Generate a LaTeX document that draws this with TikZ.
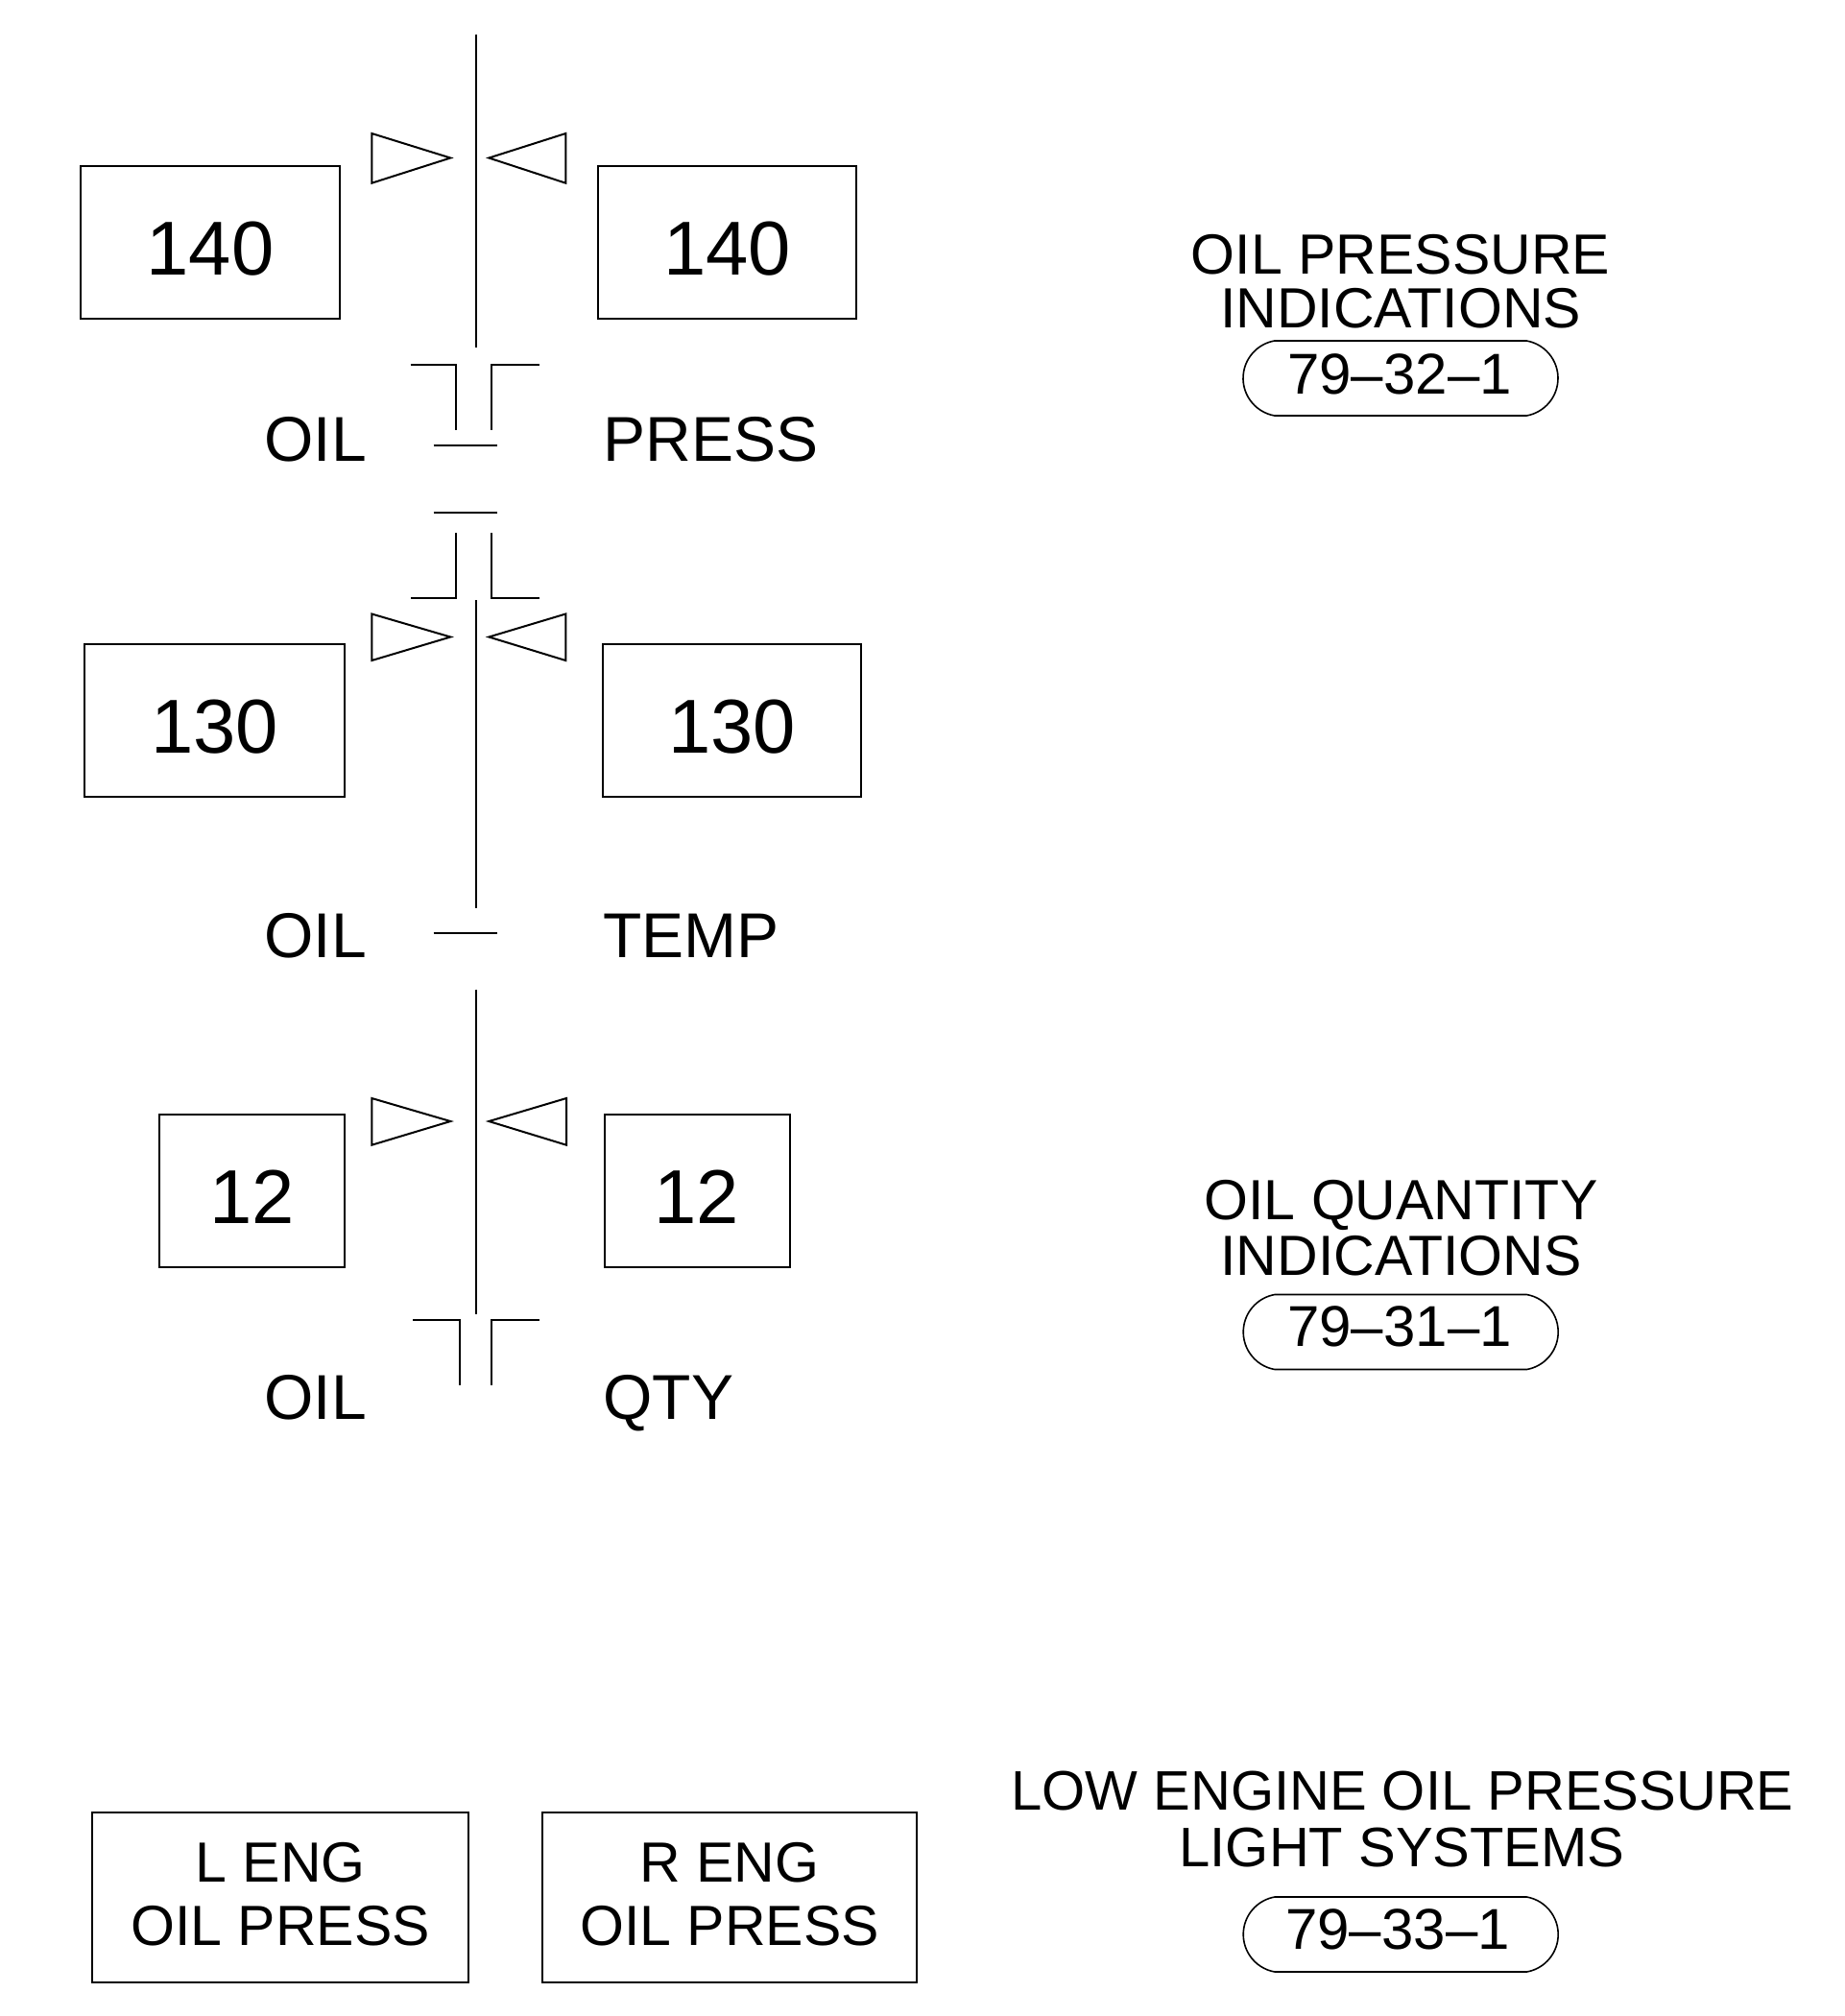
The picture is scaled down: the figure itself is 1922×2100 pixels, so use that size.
\documentclass[tikz,border=0pt]{standalone}
\usepackage{fontspec}
\setmainfont{Liberation Sans}
\usetikzlibrary{shapes.misc}
\begin{document}
\begin{tikzpicture}[x=0.5pt,y=-0.5pt,
  ln/.style={line width=1pt},
  dispbox/.style={draw, line width=1pt, inner sep=0pt, minimum height=79.5pt},
  digit/.style={inner sep=0pt, anchor=base, font=\fontsize{39.8pt}{40pt}\selectfont},
  lbl/.style={inner sep=0pt, anchor=base west, font=\fontsize{33pt}{33pt}\selectfont},
  title/.style={inner sep=0pt, anchor=base, font=\fontsize{29.5pt}{30pt}\selectfont},
  refoval/.style={draw, line width=0.8pt, rounded rectangle, rounded rectangle arc length=160, minimum width=164pt, minimum height=39pt, inner sep=0pt},
  refnum/.style={inner sep=0pt, anchor=base, font=\fontsize{30pt}{30pt}\selectfont},
  lamp/.style={draw, line width=1pt, inner sep=0pt, minimum height=88.5pt},
  lamptext/.style={inner sep=0pt, anchor=base, font=\fontsize{29.5pt}{30pt}\selectfont},
]
\useasboundingbox (0,0) rectangle (1922,2100);

% ---------- display boxes ----------
\node[dispbox, minimum width=134.6pt] (bL1) at (219,252.5) {};
\node[dispbox, minimum width=134.6pt] (bR1) at (757.4,252.5) {};
\node[digit] (nL1) at (219,286.7) {140};
\node[digit] (nR1) at (757.4,286.7) {140};

\node[dispbox, minimum width=135.3pt] (bL2) at (223.7,750) {};
\node[dispbox, minimum width=134.7pt] (bR2) at (762.7,750) {};
\node[digit] (nL2) at (223.7,784.5) {130};
\node[digit] (nR2) at (762.7,784.5) {130};

\node[dispbox, minimum width=96.5pt] (bL3) at (262.5,1240) {};
\node[dispbox, minimum width=96.5pt] (bR3) at (726,1240) {};
\node[digit] (nL3) at (262.5,1274.5) {12};
\node[digit] (nR3) at (726,1274.5) {12};

% ---------- labels ----------
\node[lbl] (oil1) at (275,480) {OIL};
\node[lbl] (press1) at (628,480) {PRESS};
\node[lbl] (oil2) at (275,997) {OIL};
\node[lbl] (temp2) at (628,997) {TEMP};
\node[lbl] (oil3) at (275,1478) {OIL};
\node[lbl] (qty3) at (628,1478) {QTY};

% ---------- pointer symbols, segment 1 ----------
\draw[ln] (495.5,35.7) -- (495.5,361.7);
\draw[ln] (387.3,139) -- (469.3,164.5) -- (387.3,190.7) -- cycle;
\draw[ln] (589.3,139) -- (509.3,164.5) -- (589.3,190.7) -- cycle;
\draw[ln] (427.7,380) -- (475,380) -- (475,448.3);
\draw[ln] (561.7,380) -- (512.3,380) -- (512.3,448.3);
\draw[ln] (451.7,464.3) -- (518.3,464.3);

% ---------- segment 2 ----------
\draw[ln] (451.7,534) -- (518.3,534);
\draw[ln] (475,555) -- (475,623.3) -- (427.7,623.3);
\draw[ln] (512.3,555) -- (512.3,623.3) -- (561.7,623.3);
\draw[ln] (495.5,625) -- (495.5,945.7);
\draw[ln] (387.3,639.5) -- (469.3,663.5) -- (387.3,688) -- cycle;
\draw[ln] (589.3,639.5) -- (509.3,663.5) -- (589.3,688) -- cycle;
\draw[ln] (451.7,971.7) -- (518.3,971.7);

% ---------- segment 3 ----------
\draw[ln] (495.5,1030.7) -- (495.5,1369);
\draw[ln] (387.3,1144) -- (469.3,1168) -- (387.3,1192.7) -- cycle;
\draw[ln] (590,1144) -- (509.3,1168) -- (590,1192.7) -- cycle;
\draw[ln] (430,1375) -- (479,1375) -- (479,1443.3);
\draw[ln] (561.7,1375) -- (512.3,1375) -- (512.3,1443.3);

% ---------- right-hand titles ----------
\node[title] (t1a) at (1459,285) {OIL PRESSURE};
\node[title] (t1b) at (1459,341.7) {INDICATIONS};
\node[refoval] (o1) at (1459,394) {};
\node[refnum] (o1t) at (1458,410) {79–32–1};

\node[title] (t2a) at (1459.5,1270.7) {OIL QUANTITY};
\node[title] (t2b) at (1459.5,1328.3) {INDICATIONS};
\node[refoval] (o2) at (1459.2,1387.5) {};
\node[refnum] (o2t) at (1458,1402.7) {79–31–1};

\node[title, font=\fontsize{29pt}{30pt}\selectfont] (t3a) at (1461,1885.7) {LOW ENGINE OIL PRESSURE};
\node[title, font=\fontsize{29pt}{30pt}\selectfont] (t3b) at (1460.6,1944) {LIGHT SYSTEMS};
\node[refoval] (o3) at (1459.2,2015) {};
\node[refnum] (o3t) at (1456,2030.7) {79–33–1};

% ---------- warning lights ----------
\node[lamp, minimum width=195.8pt] (lampL) at (292.2,1976.5) {};
\node[lamp, minimum width=195pt] (lampR) at (760,1976.5) {};
\node[lamptext] (lampL1) at (292.2,1960) {L ENG};
\node[lamptext] (lampL2) at (292.2,2026) {OIL PRESS};
\node[lamptext] (lampR1) at (760,1960) {R ENG};
\node[lamptext] (lampR2) at (760,2026) {OIL PRESS};
\end{tikzpicture}
\end{document}
